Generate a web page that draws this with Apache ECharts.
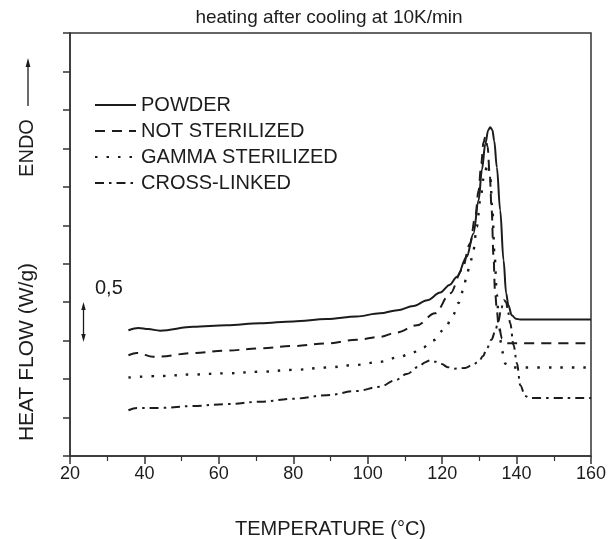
<!DOCTYPE html>
<html>
<head>
<meta charset="utf-8">
<script src="https://cdn.jsdelivr.net/npm/echarts@6/dist/echarts.min.js"></script>
<style>
html,body{margin:0;padding:0;background:#fff;}
#c{width:615px;height:539px;}
</style>
</head>
<body>
<div id="c"></div>
<script>
// ---- data (temperature °C, heat flow in axis tick units) ----
const seriesNames = ['POWDER', 'NOT STERILIZED', 'GAMMA STERILIZED', 'CROSS-LINKED'];
const xTicks = [20, 40, 60, 80, 100, 120, 140, 160];

const powder = [[35.7,3.27],[38.4,3.33],[41,3.30],[44.2,3.26],[53.1,3.36],[62,3.40],[71.1,3.45],[80,3.50],[89,3.56],[97,3.63],[103.3,3.71],[108,3.79],[112.3,3.90],[116,4.05],[119.5,4.25],[122,4.45],[124,4.66],[126.6,5.18],[128.4,5.78],[129.8,6.65],[130.7,7.45],[131.6,8.12],[132.4,8.48],[132.9,8.55],[133.5,8.48],[134.0,8.2],[134.7,7.51],[135.6,6.39],[136.5,5.09],[137.2,4.23],[137.8,3.92],[138.7,3.66],[139.8,3.57],[141,3.55],[160,3.55]];

const notSterilized = [[35.7,2.62],[38,2.68],[42.4,2.58],[44.2,2.59],[53.1,2.68],[62,2.74],[71.1,2.80],[80,2.86],[89,2.93],[97,3.02],[103.3,3.10],[107.8,3.21],[113.2,3.40],[118.1,3.71],[122.2,4.23],[125.3,4.83],[127.5,5.52],[128.9,6.22],[129.8,6.91],[130.5,7.6],[131.1,8.15],[131.6,8.3],[132.2,8.05],[132.8,7.3],[133.3,6.4],[133.8,5.2],[134.2,4.3],[134.7,3.8],[135.1,3.45],[136.1,3.05],[137.5,2.93],[160,2.93]];

const gammaSterilized = [[35.7,2.04],[44.2,2.08],[53.1,2.12],[62,2.15],[71.1,2.19],[80,2.24],[89,2.30],[97,2.37],[103.3,2.45],[108.7,2.58],[111.8,2.68],[114.8,2.82],[117.7,3.01],[120.8,3.32],[122.9,3.66],[124.4,3.98],[125.7,4.31],[126.6,4.70],[127.5,5.0],[128.4,5.35],[129.3,5.96],[130.3,6.7],[131.3,7.3],[132.2,7.6],[132.9,7.3],[133.5,6.4],[134.1,5.2],[134.7,4.2],[135.3,3.4],[136,2.75],[137,2.4],[138.5,2.3],[160,2.3]];

const crossLinked = [[35.7,1.19],[38,1.25],[44.2,1.25],[53.1,1.30],[62,1.35],[71.1,1.41],[80,1.49],[89,1.58],[97,1.69],[103.3,1.80],[107.4,1.97],[110.5,2.13],[113.6,2.32],[115.5,2.44],[116.8,2.49],[118.3,2.45],[119.9,2.39],[121.5,2.31],[123.2,2.27],[126.2,2.29],[128,2.36],[129.8,2.45],[131,2.6],[132,2.8],[133.3,3.03],[134.2,3.23],[135.1,3.5],[135.9,3.85],[136.6,4.05],[137.2,4.0],[137.7,3.75],[138.3,3.45],[139.2,2.88],[140.1,2.41],[141,1.84],[142.3,1.56],[143.5,1.51],[160,1.51]];

const seriesData = [powder, notSterilized, gammaSterilized, crossLinked];
const dashTypes = ['solid', [10, 7], [2.5, 9], [9, 5, 2.5, 5]];

const ink = '#1c1c1c';
const font = 'Liberation Sans, Arial, sans-serif';

const chart = echarts.init(document.getElementById('c'), null, {renderer: 'canvas'});

const series = seriesNames.map((name, i) => ({
  name: name,
  type: 'line',
  data: seriesData[i],
  symbol: 'none',
  smooth: 0.35,
  smoothMonotone: 'x',
  lineStyle: {color: ink, width: i === 2 ? 2.4 : 2, type: dashTypes[i]},
  itemStyle: {color: ink},
  z: 3
}));

chart.setOption({
  animation: false,
  backgroundColor: '#fff',
  title: {
    text: 'heating after cooling at 10K/min',
    left: 324, top: 3, textAlign: 'center',
    textStyle: {fontFamily: font, fontSize: 19, fontWeight: 'normal', color: ink}
  },
  grid: {left: 70, right: 24, top: 33, bottom: 83, show: true, borderColor: '#333', borderWidth: 1.5,
    backgroundColor: 'transparent', containLabel: false, outerBoundsMode: 'none'},
  legend: {
    orient: 'vertical', left: 89, top: 90, itemWidth: 41, itemHeight: 14, itemGap: 6,
    itemStyle: {color: 'transparent', borderWidth: 0, opacity: 0},
    textStyle: {fontFamily: font, fontSize: 20, color: ink},
    data: seriesNames
  },
  xAxis: {
    type: 'value', min: 20, max: 160, interval: 20,
    name: 'TEMPERATURE (°C)', nameLocation: 'middle', nameGap: 63,
    nameTextStyle: {fontFamily: font, fontSize: 20, color: ink},
    axisLine: {lineStyle: {color: '#333', width: 1.5}},
    axisTick: {length: 8, lineStyle: {color: '#333', width: 1.5}},
    minorTick: {show: true, splitNumber: 2, length: 5, lineStyle: {color: '#333', width: 1.2}},
    axisLabel: {fontFamily: font, fontSize: 18, color: ink, margin: 9,
      formatter: v => xTicks.indexOf(v) >= 0 ? String(v) : ''},
    splitLine: {show: false}
  },
  yAxis: {
    type: 'value', min: 0, max: 11, interval: 1,
    axisLine: {show: true, lineStyle: {color: '#333', width: 1.5}},
    axisTick: {show: true, length: 7, lineStyle: {color: '#333', width: 1.5}},
    axisLabel: {show: false},
    splitLine: {show: false}
  },
  graphic: [
    {type: 'text', x: 27, y: 352, rotation: Math.PI / 2,
      style: {text: 'HEAT FLOW (W/g)', fontFamily: font, fontSize: 21, fill: ink, textAlign: 'center', textVerticalAlign: 'middle'}},
    {type: 'text', x: 27, y: 148, rotation: Math.PI / 2,
      style: {text: 'ENDO', fontFamily: font, fontSize: 20, fill: ink, textAlign: 'center', textVerticalAlign: 'middle'}},
    {type: 'line', shape: {x1: 28, y1: 106, x2: 28, y2: 66}, style: {stroke: ink, lineWidth: 1.3}},
    {type: 'polygon', shape: {points: [[28, 58], [25.6, 67], [30.4, 67]]}, style: {fill: ink}},
    {type: 'text', x: 95, y: 288,
      style: {text: '0,5', fontFamily: font, fontSize: 20, fill: ink, textAlign: 'left', textVerticalAlign: 'middle'}},
    {type: 'line', shape: {x1: 83.5, y1: 308, x2: 83.5, y2: 336}, style: {stroke: ink, lineWidth: 1.3}},
    {type: 'polygon', shape: {points: [[83.5, 302], [81.3, 310], [85.7, 310]]}, style: {fill: ink}},
    {type: 'polygon', shape: {points: [[83.5, 342], [81.3, 334], [85.7, 334]]}, style: {fill: ink}}
  ],
  series: series
});
</script>
</body>
</html>
